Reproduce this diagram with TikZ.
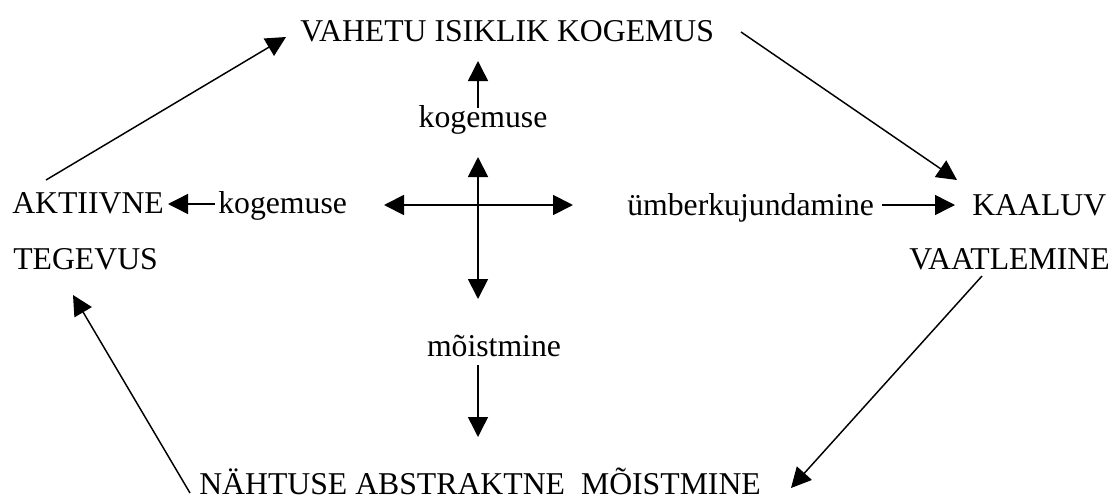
\documentclass[tikz,border=0pt]{standalone}
\usepackage{fontspec}
\setmainfont{Liberation Serif}
\usetikzlibrary{arrows.meta}
\begin{document}
\begin{tikzpicture}[x=0.75pt,y=-0.75pt,
  lbl/.style={inner sep=0pt,anchor=base west,font=\fontsize{23.8}{28}\selectfont},
  lblc/.style={inner sep=0pt,anchor=base,font=\fontsize{23.8}{28}\selectfont},
  conn/.style={line width=1.1pt,-{Triangle[length=15pt,width=15pt]}},
  both/.style={line width=1.4pt,{Triangle[length=15pt,width=15pt]}-{Triangle[length=15pt,width=15pt]}}]
\useasboundingbox (0,0) rectangle (1117,500);

% stage labels
\node[lbl] (top) at (300,41) {VAHETU ISIKLIK KOGEMUS};
\node[lbl] (akt) at (12,213) {AKTIIVNE};
\node[lbl] (teg) at (13,269) {TEGEVUS};
\node[lbl] (kaa) at (972,215) {KAALUV};
\node[lbl] (vaa) at (909,269) {VAATLEMINE};
\node[lbl] (bot) at (199,494) {NÄHTUSE ABSTRAKTNE\hspace{12pt}MÕISTMINE};

% axis labels
\node[lblc] (kogU) at (483,127) {kogemuse};
\node[lbl]  (kogL) at (218,213) {kogemuse};
\node[lbl]  (umb)  at (627,215) {ümberkujundamine};
\node[lblc] (moi)  at (494,356) {mõistmine};

% arrow end points
\coordinate (a1s) at (46,180);  \coordinate (a1e) at (286,37);
\coordinate (a2s) at (741,32);  \coordinate (a2e) at (957,180);
\coordinate (a3s) at (982,276); \coordinate (a3e) at (791,488);
\coordinate (a4s) at (190,493); \coordinate (a4e) at (73,295);
\coordinate (upS) at (478,108); \coordinate (upE) at (478,61);
\coordinate (vT)  at (478,157); \coordinate (vB)  at (478,299);
\coordinate (hL)  at (384,205); \coordinate (hR)  at (573,205);
\coordinate (dnS) at (478,365); \coordinate (dnE) at (478,437);
\coordinate (lS)  at (215,204); \coordinate (lE)  at (168,204);
\coordinate (rS)  at (882,205); \coordinate (rE)  at (955,205);

% cycle
\draw[conn] (a1s) -- (a1e);
\draw[conn] (a2s) -- (a2e);
\draw[conn] (a3s) -- (a3e);
\draw[conn] (a4s) -- (a4e);

% central cross and axis arrows
\draw[both] (vT) -- (vB);
\draw[both] (hL) -- (hR);
\draw[conn] (upS) -- (upE);
\draw[conn] (dnS) -- (dnE);
\draw[conn] (lS) -- (lE);
\draw[conn] (rS) -- (rE);
\end{tikzpicture}
\end{document}
